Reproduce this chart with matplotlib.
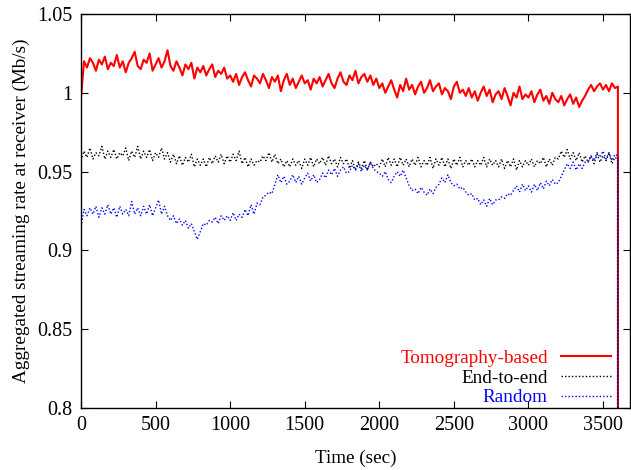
import numpy as np
import matplotlib
matplotlib.use("Agg")
import matplotlib.pyplot as plt
from matplotlib.ticker import FuncFormatter

# time axis: one sample every 20 s from 0 to 3600 s; streams stop at 3600 s
time_step = 20
time_end = 3600

tomography = [
    0.997, 1.020, 1.016, 1.022, 1.019, 1.014, 1.021, 1.018, 1.023, 1.015,
    1.019, 1.017, 1.024, 1.016, 1.020, 1.013, 1.019, 1.022, 1.026, 1.017,
    1.015, 1.021, 1.019, 1.025, 1.014, 1.018, 1.022, 1.016, 1.020, 1.027,
    1.017, 1.014, 1.020, 1.016, 1.011, 1.018, 1.015, 1.019, 1.009, 1.016,
    1.013, 1.017, 1.011, 1.015, 1.018, 1.010, 1.014, 1.012, 1.016, 1.009,
    1.011, 1.007, 1.012, 1.005, 1.010, 1.013, 1.008, 1.004, 1.011, 1.009,
    1.006, 1.012, 1.008, 1.003, 1.010, 1.007, 1.011, 1.001, 1.008, 1.012,
    1.005, 1.009, 1.003, 1.007, 1.011, 1.006, 1.008, 1.002, 1.009, 1.006,
    1.010, 1.004, 1.008, 1.012, 1.006, 1.003, 1.009, 1.013, 1.007, 1.005,
    1.011, 1.008, 1.014, 1.006, 1.010, 1.012, 1.007, 1.011, 1.005, 1.009,
    1.003, 1.006, 1.000, 1.004, 1.008, 1.002, 0.997, 1.005, 1.001, 1.009,
    1.002, 1.005, 0.999, 1.004, 1.007, 1.000, 1.003, 1.008, 1.001, 1.004,
    1.006, 0.999, 1.003, 1.001, 0.996, 1.004, 1.007, 1.000, 1.002, 0.998,
    1.003, 0.997, 1.001, 0.995, 1.000, 1.004, 0.998, 1.002, 0.994, 0.999,
    1.001, 0.996, 1.003, 0.998, 0.992, 1.000, 0.997, 1.004, 0.996, 0.999,
    0.997, 1.001, 0.994, 0.999, 1.002, 0.995, 0.998, 0.993, 1.000, 0.996,
    0.994, 0.998, 0.992, 0.996, 0.999, 0.993, 0.997, 0.991, 0.995, 0.998,
    1.002, 1.005, 1.001, 1.004, 1.006, 1.002, 1.005, 1.001, 1.006, 1.003,
    1.004,
]

end_to_end = [
    0.957, 0.963, 0.959, 0.965, 0.958, 0.962, 0.960, 0.966, 0.958, 0.963,
    0.959, 0.964, 0.958, 0.962, 0.960, 0.965, 0.957, 0.963, 0.959, 0.966,
    0.958, 0.963, 0.959, 0.964, 0.957, 0.962, 0.959, 0.965, 0.958, 0.962,
    0.956, 0.961, 0.955, 0.960, 0.954, 0.959, 0.956, 0.961, 0.953, 0.958,
    0.954, 0.958, 0.953, 0.959, 0.955, 0.960, 0.956, 0.961, 0.955, 0.960,
    0.956, 0.961, 0.957, 0.963, 0.955, 0.959, 0.953, 0.958, 0.954, 0.957,
    0.956, 0.960, 0.957, 0.962, 0.956, 0.961, 0.955, 0.958, 0.953, 0.957,
    0.953, 0.958, 0.954, 0.957, 0.952, 0.958, 0.954, 0.959, 0.953, 0.958,
    0.955, 0.959, 0.954, 0.960, 0.955, 0.958, 0.953, 0.959, 0.955, 0.958,
    0.952, 0.957, 0.951, 0.956, 0.952, 0.957, 0.951, 0.956, 0.953, 0.955,
    0.953, 0.958, 0.953, 0.959, 0.954, 0.958, 0.953, 0.959, 0.954, 0.958,
    0.953, 0.958, 0.954, 0.959, 0.953, 0.957, 0.954, 0.959, 0.952, 0.958,
    0.954, 0.959, 0.953, 0.958, 0.952, 0.958, 0.954, 0.959, 0.953, 0.957,
    0.954, 0.958, 0.953, 0.957, 0.954, 0.959, 0.953, 0.958, 0.954, 0.957,
    0.953, 0.958, 0.952, 0.957, 0.953, 0.958, 0.951, 0.957, 0.953, 0.957,
    0.954, 0.958, 0.953, 0.957, 0.955, 0.959, 0.953, 0.958, 0.954, 0.959,
    0.958, 0.963, 0.959, 0.964, 0.958, 0.962, 0.957, 0.962, 0.956, 0.960,
    0.956, 0.960, 0.955, 0.961, 0.956, 0.960, 0.957, 0.962, 0.955, 0.959,
    0.958,
]

random_sel = [
    0.915, 0.926, 0.922, 0.927, 0.923, 0.928, 0.921, 0.927, 0.923, 0.929,
    0.923, 0.927, 0.921, 0.928, 0.923, 0.926, 0.922, 0.931, 0.923, 0.927,
    0.922, 0.928, 0.923, 0.929, 0.922, 0.927, 0.932, 0.923, 0.928, 0.922,
    0.919, 0.922, 0.917, 0.920, 0.916, 0.919, 0.914, 0.917, 0.912, 0.907,
    0.912, 0.917, 0.916, 0.919, 0.918, 0.921, 0.917, 0.922, 0.919, 0.922,
    0.919, 0.924, 0.919, 0.923, 0.921, 0.926, 0.922, 0.929, 0.923, 0.930,
    0.929, 0.934, 0.935, 0.937, 0.936, 0.942, 0.948, 0.943, 0.947, 0.942,
    0.944, 0.948, 0.943, 0.947, 0.942, 0.946, 0.949, 0.944, 0.948, 0.943,
    0.945, 0.949, 0.946, 0.951, 0.948, 0.952, 0.947, 0.951, 0.953, 0.949,
    0.950, 0.954, 0.951, 0.955, 0.950, 0.954, 0.951, 0.956, 0.952, 0.950,
    0.949, 0.947, 0.950, 0.945, 0.943, 0.947, 0.950, 0.947, 0.951, 0.946,
    0.941, 0.938, 0.939, 0.936, 0.940, 0.937, 0.935, 0.939, 0.936, 0.940,
    0.942, 0.946, 0.943, 0.948, 0.943, 0.941, 0.942, 0.939, 0.940, 0.937,
    0.935, 0.936, 0.932, 0.933, 0.929, 0.932, 0.928, 0.933, 0.929, 0.932,
    0.932, 0.934, 0.933, 0.936, 0.935, 0.938, 0.941, 0.937, 0.942, 0.938,
    0.941, 0.937, 0.942, 0.938, 0.943, 0.939, 0.944, 0.941, 0.945, 0.942,
    0.943, 0.947, 0.951, 0.955, 0.952, 0.956, 0.951, 0.955, 0.952, 0.956,
    0.956, 0.960, 0.957, 0.962, 0.959, 0.963, 0.958, 0.962, 0.957, 0.961,
    0.960,
]

stop_value = 0.0  # rate after streaming stops (drops off the axis)

series_labels = ["Tomography-based", "End-to-end", "Random"]
x_ticks = [0, 500, 1000, 1500, 2000, 2500, 3000, 3500]
y_ticks = [0.8, 0.85, 0.9, 0.95, 1.0, 1.05]

t = np.append(np.arange(0, time_end + time_step, time_step), time_end)

plt.rcParams['font.family'] = ['Liberation Serif', 'DejaVu Serif']
plt.rcParams['font.size'] = 13.8

fig = plt.figure(figsize=(6.31, 4.70), dpi=100)
ax = fig.add_axes([81 / 631, 1 - 408 / 470, (630 - 81) / 631, (408 - 14) / 470])

ax.plot(t, tomography + [stop_value], color='#ff0000', lw=1.5, ls='-',
        label=series_labels[0])
ax.plot(t, end_to_end + [stop_value], color='black', lw=1.0, ls=(0, (1, 1.5)),
        label=series_labels[1])
ax.plot(t, random_sel + [stop_value], color='#0000ff', lw=1.0, ls=(0, (1, 1.5)),
        label=series_labels[2])

ax.set_xlim(0, 3681)
ax.set_ylim(0.8, 1.05)
ax.set_xticks(x_ticks)
ax.set_yticks(y_ticks)
ax.yaxis.set_major_formatter(FuncFormatter(lambda v, p: f"{v:g}"))
ax.tick_params(direction='in', top=True, right=True, length=5, width=0.8,
               pad=6, labelsize=14.5)
for s in ax.spines.values():
    s.set_linewidth(1.0)

ax.set_xlabel("Time (sec)", labelpad=10)
ax.set_ylabel("Aggregated streaming rate at receiver (Mb/s)", labelpad=5)

leg = ax.legend(loc='lower right', bbox_to_anchor=(0.99, -0.03), frameon=False,
                markerfirst=False, handlelength=2.6, handletextpad=0.7,
                labelspacing=0.12, borderaxespad=0.3)
for txt, line in zip(leg.get_texts(), leg.get_lines()):
    txt.set_color(line.get_color())
    txt.set_ha('right')

fig.savefig("out.png", dpi=100)
